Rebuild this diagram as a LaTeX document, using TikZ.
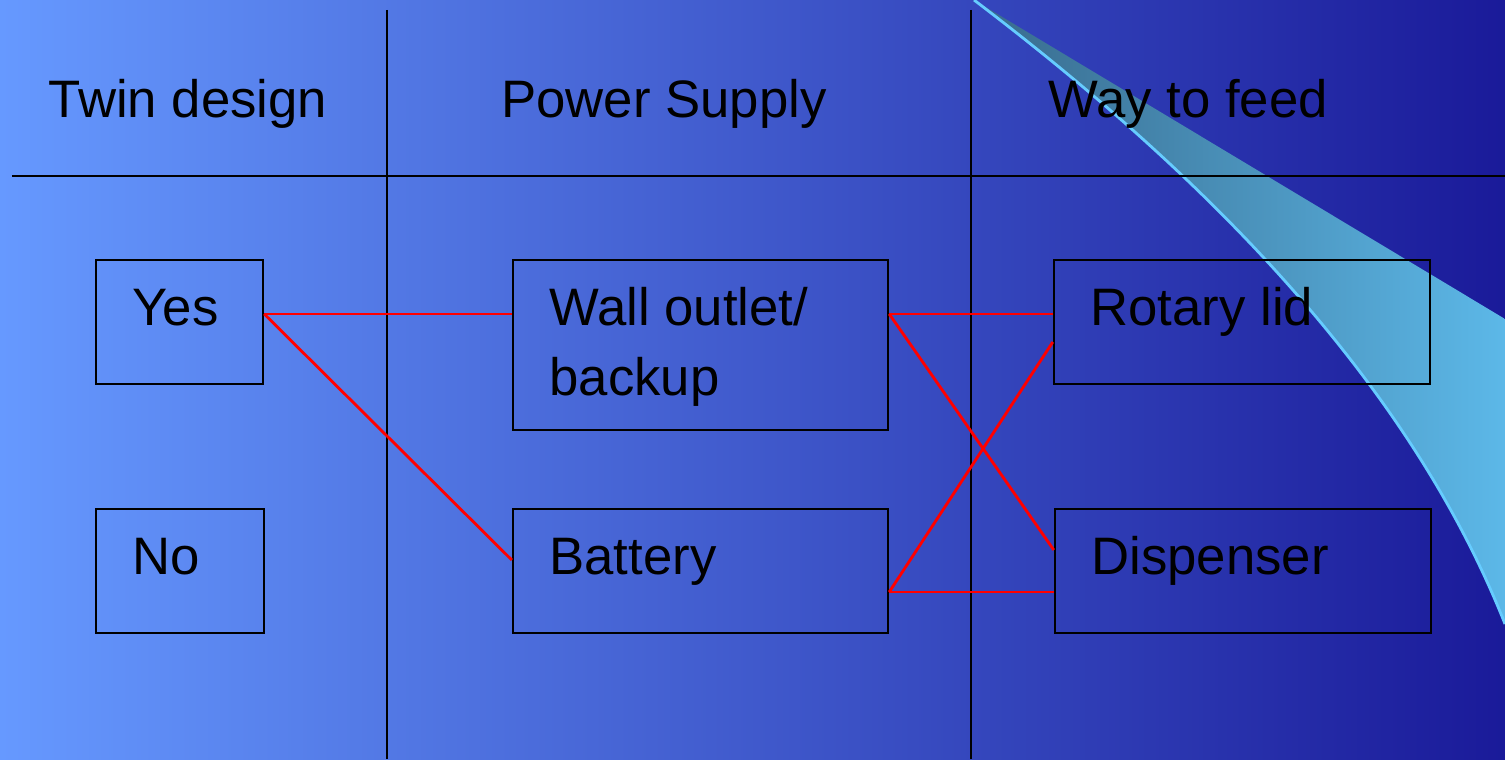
\documentclass[tikz,border=0pt]{standalone}
\usepackage{fontspec}
\setmainfont{Liberation Sans}
\usepackage{xcolor}
\usepackage{tikz}
\usetikzlibrary{positioning}
\definecolor{slideleft}{HTML}{6699FF}
\definecolor{slideright}{HTML}{1A1A99}
\definecolor{swooshdark}{HTML}{386A8C}
\definecolor{swooshlight}{HTML}{5CB8E8}
\definecolor{swooshedge}{HTML}{66CCFF}
\definecolor{linkred}{HTML}{FF0000}

\tikzset{
    optbox/.style={draw=black, line width=0.7pt, inner sep=0pt, minimum height=1.24cm},
    optlabel/.style={anchor=base west, inner sep=0pt, align=left, font=\fontsize{15}{19.9}\selectfont, xshift=0.37cm, yshift=-0.67cm},
    header/.style={anchor=base, inner sep=0pt, font=\fontsize{15}{18}\selectfont},
    rule/.style={black, line width=0.8pt},
    link/.style={linkred, line width=0.8pt}
}

\begin{document}
\begin{tikzpicture}
    % Slide background
    \shade[left color=slideleft, right color=slideright] (0, 0) rectangle (15.05, 7.59);
    \useasboundingbox (0, 0) rectangle (15.05, 7.59);

    % Swoosh in the corner
    \shade[left color=swooshdark, right color=swooshlight]
        (9.74, 7.59) -- (15.05, 4.40) -- (15.05, 1.35)
        .. controls (14.0, 4.0) and (11.7, 6.1) .. (9.74, 7.59) -- cycle;
    \draw[swooshedge, line width=0.8pt] (9.74, 7.59) .. controls (11.7, 6.1) and (14.0, 4.0) .. (15.05, 1.35);

    % Table rules
    \coordinate (ruleL) at (0.12, 5.83);
    \coordinate (ruleR) at (15.05, 5.83);
    \coordinate (colA) at (3.87, 7.49);
    \coordinate (colAend) at (3.87, 0);
    \coordinate (colB) at (9.71, 7.49);
    \coordinate (colBend) at (9.71, 0);
    \draw[rule] (ruleL) -- (ruleR);
    \draw[rule] (colA) -- (colAend);
    \draw[rule] (colB) -- (colBend);

    % Column headers
    \node[header] (hTwin) at (1.88, 6.41) {Twin design};
    \node[header] (hPower) at (6.64, 6.41) {Power Supply};
    \node[header] (hFeed) at (11.88, 6.41) {Way to feed};

    % Option boxes
    \node[optbox, minimum width=1.67cm] (yes) at (1.795, 4.37) {};
    \node[optbox, minimum width=1.68cm] (no) at (1.80, 1.88) {};
    \node[optbox, minimum width=3.75cm, minimum height=1.70cm] (wall) at (7.005, 4.14) {};
    \node[optbox, minimum width=3.75cm] (battery) at (7.005, 1.88) {};
    \node[optbox, minimum width=3.76cm] (rotary) at (12.42, 4.37) {};
    \node[optbox, minimum width=3.76cm] (dispenser) at (12.43, 1.88) {};

    \node[optlabel] (yesText) at (yes.north west) {Yes};
    \node[optlabel] (noText) at (no.north west) {No};
    \node[optlabel, yshift=-0.70cm] (wallText) at (wall.north west) {Wall outlet/\\backup};
    \node[optlabel] (batteryText) at (battery.north west) {Battery};
    \node[optlabel] (rotaryText) at (rotary.north west) {Rotary lid};
    \node[optlabel] (dispenserText) at (dispenser.north west) {Dispenser};

    % Combinations
    \draw[link] ([yshift=0.08cm]yes.east) -- ([yshift=0.31cm]wall.west);
    \draw[link] ([yshift=0.08cm]yes.east) -- ([yshift=0.11cm]battery.west);
    \draw[link] ([yshift=0.31cm]wall.east) -- ([yshift=0.08cm]rotary.west);
    \draw[link] ([yshift=0.31cm]wall.east) -- ([yshift=0.21cm]dispenser.west);
    \draw[link] ([yshift=-0.21cm]battery.east) -- ([yshift=-0.20cm]rotary.west);
    \draw[link] ([yshift=-0.21cm]battery.east) -- ([yshift=-0.21cm]dispenser.west);
\end{tikzpicture}
\end{document}
